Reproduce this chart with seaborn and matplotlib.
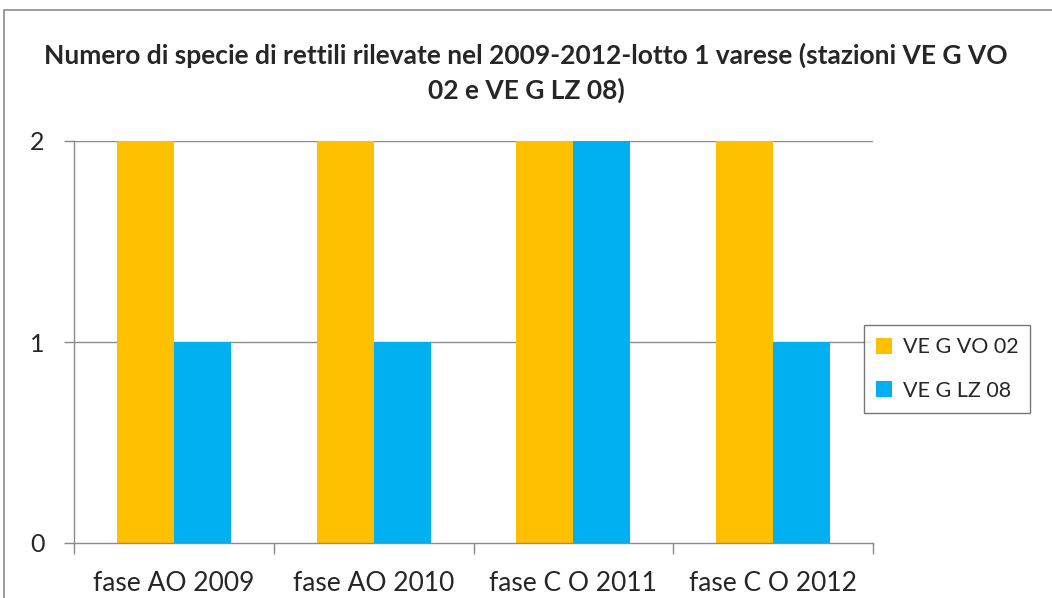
import matplotlib
matplotlib.use("Agg")
import matplotlib.pyplot as plt
import seaborn as sns
import pandas as pd
from matplotlib.patches import Rectangle

categories = ["fase AO 2009", "fase AO 2010", "fase CO 2011", "fase CO 2012"]
series_names = ["VEG VO 02", "VEG LZ 08"]
vo02 = [2, 2, 2, 2]
lz08 = [1, 1, 2, 1]
yticks = [0, 1, 2]
title = "Numero di specie di rettili rilevate nel 2009-2012-lotto 1 varese (stazioni VE G VO\n02 e VE G LZ 08)"
legend_labels = ["VE G VO 02", "VE G LZ 08"]
xlabels = ["fase AO 2009", "fase AO 2010", "fase C O 2011", "fase C O 2012"]

df = pd.DataFrame({
    "cat": categories * 2,
    "series": [series_names[0]] * 4 + [series_names[1]] * 4,
    "value": vo02 + lz08,
})

sns.set_style("white")
plt.rcParams["font.family"] = ["Lato", "DejaVu Sans"]

fig = plt.figure(figsize=(10.52, 5.98), dpi=100)
ax = fig.add_axes([74 / 1052, 1 - 543 / 598, (873 - 74) / 1052, (543 - 141) / 598])

sns.barplot(data=df, x="cat", y="value", hue="series", order=categories,
            hue_order=series_names, palette=["#FFC000", "#00B0F0"],
            width=0.57, ax=ax, saturation=1, legend=True, linewidth=0)

ax.set_xlim(-0.5, 3.5)
ax.set_ylim(0, 2)
ax.set_yticks(yticks)
ax.set_yticklabels([str(v) for v in yticks], fontsize=18)
ax.set_xticks(range(len(categories)))
ax.set_xticklabels(xlabels, fontsize=19)
ax.set_xticks([i - 0.5 for i in range(len(categories) + 1)], minor=True)
ax.tick_params(axis="x", which="major", length=0, pad=20)
ax.tick_params(axis="x", which="minor", length=8, color="#888888", width=1, direction="out", bottom=True)
ax.tick_params(axis="y", length=7, color="#888888", width=1, direction="out", left=True, pad=14)
ax.set_xlabel("")
ax.set_ylabel("")
for y in [1, 2]:
    ax.axhline(y, color="#8c8c8c", lw=1, zorder=0)
for s in ["top", "right"]:
    ax.spines[s].set_visible(False)
for s in ["left", "bottom"]:
    ax.spines[s].set_color("#8c8c8c")
    ax.spines[s].set_linewidth(1)

h, l = ax.get_legend_handles_labels()
ax.legend(h, legend_labels, loc="center left", bbox_to_anchor=(864 / 1052, 1 - 369 / 598),
          bbox_transform=fig.transFigure, frameon=True, fancybox=False, edgecolor="#555555",
          fontsize=15.5, handlelength=0.75, handleheight=0.75, labelspacing=1.1, borderpad=0.55,
          handletextpad=0.5, borderaxespad=0)

fig.text(0.5, 1 - 73 / 598, title, ha="center", va="center", fontsize=19,
         fontweight="bold", linespacing=1.45)

fig.patches.append(Rectangle((4 / 1052, -0.1), 1.2, 1 - 10 / 598 + 0.1, transform=fig.transFigure,
                             fill=False, edgecolor="#8c8c8c", lw=1.2))

fig.savefig("out.png", dpi=100)
